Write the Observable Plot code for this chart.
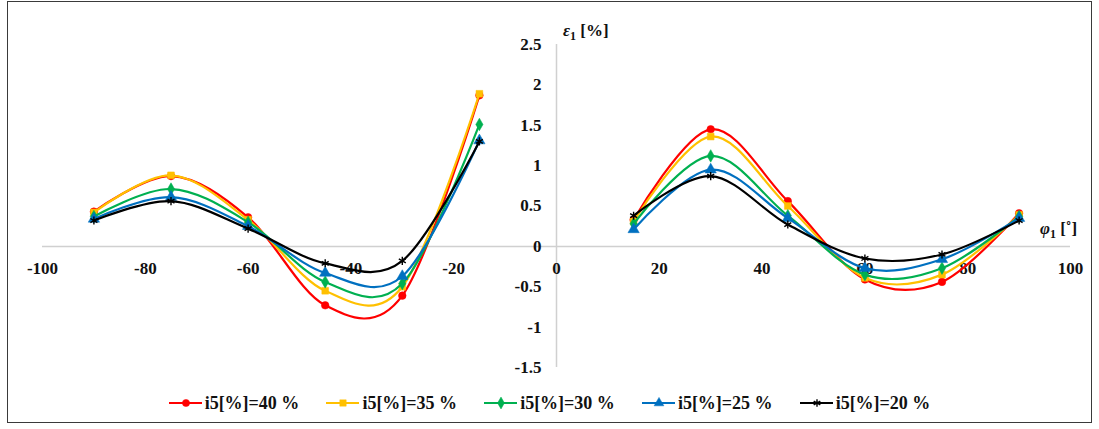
<!DOCTYPE html>
<html>
<head>
<meta charset="utf-8">
<script src="https://cdn.jsdelivr.net/npm/d3@7"></script>
<script src="https://cdn.jsdelivr.net/npm/@observablehq/plot@0.6"></script>
<style>
  html, body { margin: 0; padding: 0; background: #fff; }
  body { width: 1099px; height: 429px; position: relative; overflow: hidden; font-family: "Liberation Serif", "Times New Roman", Times, serif; }
  #frame { position: absolute; left: 7px; top: 1px; width: 1085px; height: 422px; border: 1.5px solid #3a3a3a; box-sizing: border-box; pointer-events: none; }
  #chart { position: absolute; left: 0; top: 0; }
  #legend { position: absolute; left: 0; top: 391px; width: 1099px; height: 24px; display: flex; justify-content: center; align-items: center; gap: 27px; font-weight: bold; font-size: 18px; color: #111; }
  .item { display: flex; align-items: center; gap: 3px; }
</style>
</head>
<body>
<div id="chart"></div>
<div id="legend"></div>
<div id="frame"></div>
<script>
const angles = [-90, -75, -60, -45, -30, -15, 15, 30, 45, 60, 75, 90];
const seriesNames = ["i5[%]=40 %", "i5[%]=35 %", "i5[%]=30 %", "i5[%]=25 %", "i5[%]=20 %"];
const s40 = [0.43, 0.87, 0.36, -0.73, -0.61, 1.87, 0.33, 1.45, 0.56, -0.41, -0.44, 0.41];
const s35 = [0.42, 0.88, 0.33, -0.55, -0.50, 1.89, 0.31, 1.36, 0.50, -0.39, -0.35, 0.39];
const s30 = [0.37, 0.71, 0.30, -0.44, -0.46, 1.51, 0.28, 1.12, 0.38, -0.35, -0.27, 0.37];
const s25 = [0.34, 0.61, 0.25, -0.33, -0.37, 1.31, 0.21, 0.95, 0.35, -0.27, -0.16, 0.35];
const s20 = [0.32, 0.56, 0.22, -0.21, -0.18, 1.30, 0.38, 0.87, 0.27, -0.15, -0.10, 0.32];
const colors = ["#FF0000", "#FFC000", "#00B050", "#0070C0", "#000000"];
const symbols = ["circle", "square", "diamond", "triangle", "asterisk"];
const xTicks = [-100, -80, -60, -40, -20, 0, 20, 40, 60, 80, 100];
const xTickLabels = ["-100", "-80", "-60", "-40", "-20", "0", "20", "40", "60", "80", "100"];
const yTicks = [-1.5, -1, -0.5, 0, 0.5, 1, 1.5, 2, 2.5];
const yTickLabels = ["-1.5", "-1", "-0.5", "0", "0.5", "1", "1.5", "2", "2.5"];

const allSeries = [s40, s35, s30, s25, s20];
const font = "'Liberation Serif', 'Times New Roman', Times, serif";

const marks = [];
marks.push(Plot.ruleY([0], {x1: -100, x2: 100, stroke: "#d0d0d0", strokeWidth: 1.5}));
marks.push(Plot.ruleX([0], {y1: -1.5, y2: 2.5, stroke: "#d0d0d0", strokeWidth: 1.5}));
marks.push(Plot.text(xTicks, {x: d => d, y: 0, text: (d, i) => xTickLabels[i], dy: 22, fontSize: 17, fontWeight: "bold", fontFamily: font, fill: "#111"}));
marks.push(Plot.text(yTicks, {x: 0, y: d => d, text: (d, i) => yTickLabels[i], dx: -15, textAnchor: "end", fontSize: 17, fontWeight: "bold", fontFamily: font, fill: "#111"}));

allSeries.forEach((vals, si) => {
  const rows = angles.map((a, i) => ({x: a, y: vals[i], seg: a < 0 ? "L" : "R"}));
  marks.push(Plot.line(rows, {x: "x", y: "y", z: "seg", curve: "cardinal", tension: 0, stroke: colors[si], strokeWidth: 2.2}));
  const isAst = symbols[si] === "asterisk";
  marks.push(Plot.dot(rows, {x: "x", y: "y", symbol: () => symbols[si], r: si === 3 ? 4.2 : 3.8,
    fill: isAst ? "none" : colors[si], stroke: colors[si], strokeWidth: isAst ? 1.4 : 0.5}));
});

const chart = Plot.plot({
  width: 1099,
  height: 385,
  marginLeft: 42,
  marginRight: 29,
  marginTop: 44,
  marginBottom: 18,
  x: {domain: [-100, 100], axis: null},
  y: {domain: [-1.5, 2.5], axis: null},
  style: {background: "transparent", overflow: "visible", fontFamily: font},
  marks
});
document.getElementById("chart").appendChild(chart);

const xs = chart.scale("x"), ys = chart.scale("y");
const svg = d3.select(chart);
// y-axis label
const t1 = svg.append("text").attr("x", xs.apply(0) + 7).attr("y", 36).attr("text-anchor", "start")
  .attr("font-family", font).attr("font-size", 17).attr("font-weight", "bold").attr("fill", "#111");
t1.append("tspan").attr("font-style", "italic").text("ε");
t1.append("tspan").attr("font-size", 12).attr("dy", 4).text("1");
t1.append("tspan").attr("dy", -4).text(" [%]");
// x-axis label
const t2 = svg.append("text").attr("x", xs.apply(100) - 30).attr("y", ys.apply(0) - 12).attr("text-anchor", "start")
  .attr("font-family", font).attr("font-size", 17).attr("font-weight", "bold").attr("fill", "#111");
t2.append("tspan").attr("font-style", "italic").text("φ");
t2.append("tspan").attr("font-size", 12).attr("dy", 4).text("1");
t2.append("tspan").attr("dy", -4).text(" [˚]");

// legend
const legend = d3.select("#legend");
seriesNames.forEach((name, si) => {
  const item = legend.append("div").attr("class", "item");
  const s = item.append("svg").attr("width", 33).attr("height", 14);
  s.append("line").attr("x1", 0).attr("x2", 33).attr("y1", 7).attr("y2", 7).attr("stroke", colors[si]).attr("stroke-width", 2.2);
  const symMap = {circle: d3.symbolCircle, square: d3.symbolSquare, diamond: d3.symbolDiamond, triangle: d3.symbolTriangle, asterisk: d3.symbolAsterisk};
  const isAst = symbols[si] === "asterisk";
  s.append("path").attr("transform", "translate(17,7)")
    .attr("d", d3.symbol(symMap[symbols[si]], Math.PI * 3.6 * 3.6)())
    .attr("fill", isAst ? "none" : colors[si]).attr("stroke", colors[si]).attr("stroke-width", isAst ? 1.4 : 0.5);
  item.append("span").text(name);
});
</script>
</body>
</html>
